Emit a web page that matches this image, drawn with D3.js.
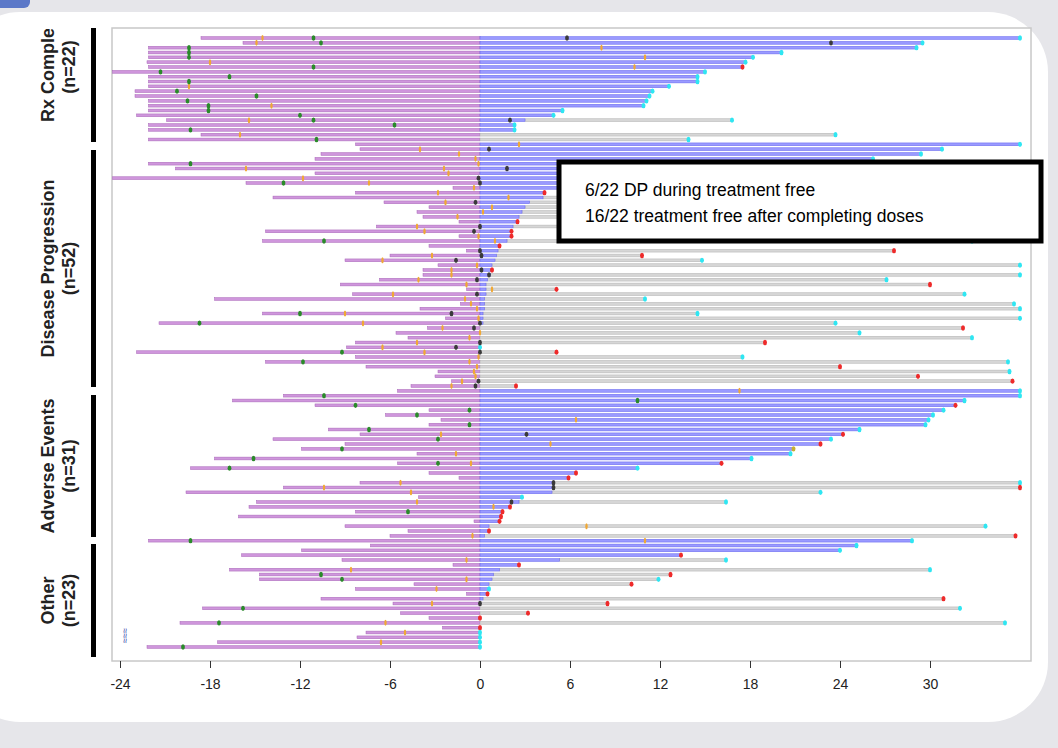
<!DOCTYPE html>
<html><head><meta charset="utf-8">
<script src="https://cdn.jsdelivr.net/npm/d3@7"></script>
<style>body{margin:0;background:#e6e6ea;font-family:"Liberation Sans",Arial,sans-serif}</style>
</head><body><svg id="c" width="1058" height="748"></svg>
<script>
const groupNames=[["Rx Complete","(n=22)"],["Disease Progression","(n=52)"],["Adverse Events","(n=31)"],["Other","(n=23)"]];
const groupSizes=[22,51,31,23];
const xTicks=[-24,-18,-12,-6,0,6,12,18,24,30];
const startVals=[-18.6,-15.8,-22.1,-22.1,-22.1,-22.2,-22.1,-24.5,-22.1,-22.1,-22.1,-23,-23,-22.1,-22.1,-22.1,-22.9,-20.9,-22.1,-22.1,-18.6,-22.1,
-8.3,-8,-10.6,-11,-22.1,-20.3,-11,-24.5,-15.6,-1.8,-8.3,-13.8,-6.4,-3.4,-4.2,-3.8,-1.4,-6.9,-14.3,-1.4,-14.5,-3.4,-0.9,-6,-9,-2.8,-3.8,-3.8,-6.7,-9.3,-0.9,-8.5,-17.7,-1.3,-4,-14.5,-2.3,-21.4,-3.5,-5.6,-4.8,-8.3,-8.9,-22.9,-8.3,-14.3,-7.6,-2.8,-3,-1.9,-4.6,
-5.5,-13.1,-16.5,-11,-3.4,-6.3,-2.6,-3.4,-10.1,-8,-13.8,-9,-11.9,-4.2,-17.7,-5.5,-19.3,-3.4,-1.4,-8,-13.1,-19.6,-4.1,-14.9,-15.4,-8.3,-16.1,-0.4,-9,-4.8,-6,
-22.1,-7.3,-11.9,-15.9,-9.2,-1.8,-16.7,-14.7,-14.7,-4.4,-8.3,-0.9,-10.6,-5.8,-18.5,-5.3,-3.4,-20,-2.5,-7.6,-8.2,-17.5,-22.2];
const blueVals=[36,29.5,29.1,20.1,18.2,17.7,17.5,15,14.5,14.5,12.6,11.5,11.3,11.1,10.9,5.5,4.9,3.0,2.3,2.3,0,0,
36,30.8,29.4,26.2,26,25,24,22,18,12,4.3,4.2,3.3,3.0,2.8,2.6,2.5,2.2,2.1,2.1,1.8,1.3,1.2,1.1,1,0.8,0.8,0.7,0.5,0.4,0.4,0.4,0.3,0.3,0.3,0.2,0.2,0.2,0,0,0,0,0,0,0,0,0,0,0,0,0,
36,36,32.3,31.7,30.9,30.2,29.9,29.7,25.3,24.2,23.4,22.7,20.9,20.7,18.1,16.1,10.5,6.4,5.9,4.9,4.9,4.8,2.8,2.6,2.0,1.5,1.4,1.3,0.6,0.6,0.3,
28.8,25.1,24,13.4,5.3,2.6,1.3,0.9,0.8,0.6,0.6,0.5,0.2,0,0,0,0,0,0,0,0,0,0];
const grayVals=[0,0,0,0,0,0,0,0,0,0,0,0,0,0,0,0,0,16.8,0,0,23.7,13.9,
0,0,0,0,0,0,0,0,0,0,0,20,22,20,22,24,0,20,0,0,32.8,0,27.6,10.8,14.8,36,0,36,27.1,30,5.1,32.3,11,35.6,36,14.5,36,23.7,32.2,25.3,32.8,19,0,5.1,17.5,35.2,24,35.3,29.2,35.5,2.4,
0,0,0,0,0,0,0,0,0,0,0,0,0,0,0,0,0,0,0,36,36,22.7,0,16.4,0,0,0,0,33.7,0,35.7,
0,0,0,0,16.4,0,30,12.7,11.9,10.1,0,0,30.9,8.5,32,3.2,0,35,0,0,0,0,0];
const endCodes="ccccccrccccccccccccccc"
 +"cccccccccc"+"r"+"ccc"+"r"+"c"+"r"+"c"+"rr"+"c"+"rrr"+"cc"+"r"+"cc"+"rr"+"ccccccc"+"r"+"cc"+"r"+"c"+"r"+"cc"+"r"+"c"+"rrr"
 +"ccc"+"r"+"ccccc"+"r"+"c"+"r"+"o"+"cc"+"r"+"c"+"rr"+"c"+"r"+"ccc"+"rrrr"+"c"+"rr"
 +"ccc"+"r"+"c"+"r"+"c"+"r"+"c"+"r"+"c"+"rrr"+"c"+"rr"+"c"+"r"+"cccc";
const greenEv=[[0,-11.1],[1,-10.6],[2,-19.4],[3,-19.4],[4,-19.4],[6,-11.1],[7,-21.3],[8,-16.7],[9,-19.4],[11,-20.2],[12,-14.9],[13,-19.5],[14,-18.1],[15,-18.1],[16,-12],[17,-11.1],[18,-5.7],[19,-19.3],[21,-10.9],
[26,-19.3],[30,-13.1],[42,-10.4],[57,-12],[59,-18.7],[65,-9.2],[67,-11.8],
[74,-10.4],[75,10.5],[76,-8.3],[77,-0.7],[78,-4.2],[80,-0.7],[81,-7.4],[83,-2.8],[85,-9.2],[87,-15.1],[88,-2.8],[89,-16.7],[98,-4.8],
[104,-19.3],[111,-10.6],[112,-9.2],[118,-15.8],[121,-17.4],[126,-19.8]];
const orangeEv=[[0,-14.5],[1,-14.9],[2,8.1],[4,11],[5,-18],[6,10.3],[10,-19.4],[14,-13.9],[17,-15.4],[20,-16],
[22,2.6],[23,-4],[24,-1.4],[25,-0.3],[26,-0.1],[27,-15.6],[27,-2.4],[28,-2.1],[29,-11.8],[30,-7.4],[31,-0.4],[32,-2.8],[33,1.9],[34,-2.3],[35,0.8],[36,0.2],[37,-1.5],[39,-4.2],[40,-3.7],[41,-0.1],[42,1.0],[45,-3.2],[46,-6.5],[47,-0.2],[48,-1.9],[49,-1.9],[50,-4.1],[51,-0.9],[52,0.8],[53,-5.8],[54,-1],[55,-0.6],[56,-0.2],[57,-9],[58,-0.1],[59,-7.8],[60,-2.5],[61,0],[62,-0.7],[63,-4.2],[64,-6.5],[65,-3.7],[66,-0.1],[67,-0.7],[68,-0.2],[69,-0.4],[70,-0.3],[71,-1.2],[72,-1.9],
[73,17.3],[79,6.4],[82,-2.6],[84,4.7],[86,-1.6],[88,-0.6],[92,-5.3],[93,-10.4],[94,-4.6],[96,-4.2],[97,0.9],[101,7.1],[103,-0.5],
[104,11],[108,-0.9],[110,-8.6],[112,-0.9],[114,-2.9],[117,-3.2],[121,-6.3],[123,-5],[125,-6.6]];
const blackEv=[[0,5.8],[1,23.4],[17,2.0],[23,0.6],[27,1.8],[29,-0.1],[30,0],[34,-0.3],[39,0],[40,-0.4],[44,0],[45,0.1],[46,-1.6],[48,0.1],[49,0.6],[50,-0.2],[53,-0.2],[57,-1.9],[59,0],[60,-0.4],[63,0],[64,-1.6],[65,0],[71,-0.1],[72,-0.3],
[82,3.1],[92,4.9],[93,4.9],[96,2.1],[117,0]];

const svg=d3.select("#c");
svg.append("rect").attr("x",-40).attr("y",12).attr("width",1088).attr("height",710).attr("rx",60).attr("fill","#fff");
svg.append("rect").attr("x",-10).attr("y",-10).attr("width",40).attr("height",18).attr("rx",6).attr("fill","#5b78c8");
const x=d3.scaleLinear().domain([-24,30]).range([120,930]);
const nRows=startVals.length;
const y=d3.scaleLinear().domain([0,nRows-1]).range([38,647]);
const L=112,R=1031,T=28,B=661;
svg.append("rect").attr("x",L).attr("y",T).attr("width",R-L).attr("height",B-T).attr("fill","#fff").attr("stroke","#c8c8c8").attr("stroke-width",1.5);
const h=2.8;
const rows=d3.range(nRows);
const g=svg.append("g");
g.selectAll(".lb").data(rows).join("rect").attr("x",i=>x(startVals[i])).attr("y",i=>y(i)-h/2).attr("width",i=>x(0)-x(startVals[i])).attr("height",h).attr("fill","#cf96dc").attr("stroke","#a766b8").attr("stroke-width",0.5);
g.selectAll(".gb").data(rows.filter(i=>grayVals[i]>0)).join("rect").attr("x",i=>x(blueVals[i])).attr("y",i=>y(i)-h/2).attr("width",i=>x(grayVals[i])-x(blueVals[i])).attr("height",h).attr("fill","#d6d6d6").attr("stroke","#b0b0b0").attr("stroke-width",0.5);
g.selectAll(".bb").data(rows.filter(i=>blueVals[i]>0)).join("rect").attr("x",x(0)).attr("y",i=>y(i)-h/2).attr("width",i=>x(blueVals[i])-x(0)).attr("height",h).attr("fill","#9a9aff").attr("stroke","#6262ee").attr("stroke-width",0.5);
const ecol={c:"#2fe6f2",r:"#ee2a2a",o:"#c8b030"};
g.selectAll(".em").data(rows).join("ellipse").attr("cx",i=>x(Math.max(blueVals[i],grayVals[i]))).attr("cy",i=>y(i)).attr("rx",2).attr("ry",2.7).attr("fill",i=>ecol[endCodes[i]]||"#2fe6f2");
function ev(data,col,rx,ry){g.selectAll(null).data(data).join("ellipse").attr("cx",d=>x(d[1])).attr("cy",d=>y(d[0])).attr("rx",rx).attr("ry",ry).attr("fill",col);}
ev(orangeEv,"#f0a834",1.2,3);
ev(greenEv,"#2a8a2a",1.9,2.7);
ev(blackEv,"#3a3a3a",1.9,2.7);
const ax=svg.append("g").attr("transform",`translate(0,${B})`).call(d3.axisBottom(x).tickValues(xTicks).tickSize(7).tickFormat(d=>d));
ax.select(".domain").remove();
ax.selectAll("line").attr("stroke","#333");
ax.selectAll("text").attr("font-size",14).attr("dy","1.3em").attr("fill","#222").attr("font-family","Liberation Sans, Arial");
const bracketY=[[28,142],[150,387],[395,537],[544,657]];
groupNames.forEach((nm,k)=>{
  const [a,b]=bracketY[k];
  svg.append("rect").attr("x",91).attr("y",a).attr("width",5).attr("height",b-a).attr("fill","#000");
  const cy=k===0?(a+b)/2-18:(a+b)/2;
  const t=svg.append("text").attr("transform",`translate(54,${cy}) rotate(-90)`).attr("text-anchor","middle").attr("font-size",18).attr("font-weight","bold").attr("fill","#222").attr("font-family","Liberation Sans Narrow, Liberation Sans, Arial");
  t.append("tspan").attr("x",0).attr("dy",0).text(nm[0]);
  t.append("tspan").attr("x",0).attr("dy",21).text(nm[1]);
});
svg.append("rect").attr("x",30).attr("y",0).attr("width",58).attr("height",29).attr("fill","#fff");
svg.append("rect").attr("x",30).attr("y",0).attr("width",58).attr("height",12).attr("fill","#e6e6ea");
svg.append("text").attr("x",117).attr("y",648).attr("font-size",9).attr("fill","#3344aa").attr("transform","rotate(-90,120,640)").text("≈≈≈");
svg.append("rect").attr("x",559).attr("y",162).attr("width",482).attr("height",79).attr("fill","#fff").attr("stroke","#000").attr("stroke-width",5);
svg.append("text").attr("x",585).attr("y",196).attr("font-size",17.5).attr("fill","#000").text("6/22 DP during treatment free");
svg.append("text").attr("x",585).attr("y",222).attr("font-size",17.5).attr("fill","#000").text("16/22 treatment free after completing doses");
</script></body></html>
